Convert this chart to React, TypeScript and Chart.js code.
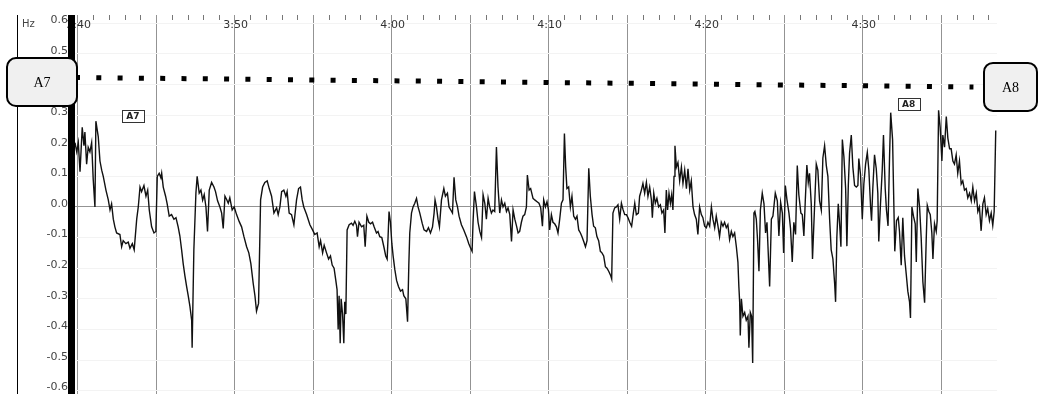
import { useEffect, useRef } from "react";
import { Chart, registerables } from "chart.js";

Chart.register(...registerables);

// ---- axis data ----
const START_SEC = 220; // 3:40 expressed in seconds
const X_MIN = -0.17;
const X_MAX = 58.55;
const Y_MIN = -0.611;
const Y_MAX = 0.627;
const yTickValues = [-0.6, -0.5, -0.4, -0.3, -0.2, -0.1, 0, 0.1, 0.2, 0.3, 0.4, 0.5, 0.6];
const gridSec = [0, 5, 10, 15, 20, 25, 30, 35, 40, 45, 50, 55];
const timeLabelSec = [0, 10, 20, 30, 40, 50];
const minorTickSec = [
  1, 2, 3, 4, 6, 7, 8, 9, 11, 12, 13, 14, 16, 17, 18, 19, 21, 22, 23, 24, 26, 27, 28, 29,
  31, 32, 33, 34, 36, 37, 38, 39, 41, 42, 43, 44, 46, 47, 48, 49, 51, 52, 53, 54, 56, 57, 58,
];

// ---- frequency trace (seconds after 3:40, Hz) ----
const elapsedSec = [
  -0.17, -0.06, 0.04, 0.15, 0.29, 0.4, 0.46, 0.57, 0.67, 0.78, 0.89, 0.99, 1.1, 1.16, 1.31, 1.42, 1.53, 1.63, 1.8, 1.95,
  2.06, 2.16, 2.27, 2.37, 2.48, 2.69, 2.8, 2.9, 3.07, 3.22, 3.33, 3.48, 3.6, 3.76, 3.86, 3.97, 4.07, 4.22, 4.35, 4.46,
  4.56, 4.71, 4.86, 4.98, 5.07, 5.19, 5.3, 5.35, 5.45, 5.6, 5.7, 5.83, 5.98, 6.13, 6.26, 6.4, 6.51, 6.62, 6.72, 6.83,
  6.94, 7.04, 7.15, 7.26, 7.29, 7.4, 7.53, 7.61, 7.74, 7.85, 7.96, 8.06, 8.17, 8.27, 8.38, 8.53, 8.68, 8.78, 8.91, 9.06,
  9.17, 9.27, 9.38, 9.48, 9.59, 9.69, 9.84, 9.97, 10.12, 10.29, 10.44, 10.59, 10.76, 10.9, 11.03, 11.18, 11.29, 11.39, 11.52, 11.65,
  11.78, 11.92, 12.07, 12.2, 12.35, 12.5, 12.67, 12.77, 12.88, 12.99, 13.13, 13.26, 13.34, 13.47, 13.62, 13.77, 13.94, 14.07, 14.19, 14.3,
  14.4, 14.58, 14.79, 14.96, 15.1, 15.25, 15.38, 15.47, 15.6, 15.7, 15.85, 15.98, 16.1, 16.21, 16.33, 16.44, 16.52, 16.59, 16.65, 16.72,
  16.78, 16.87, 16.95, 17.01, 17.08, 17.16, 17.29, 17.44, 17.54, 17.65, 17.76, 17.82, 17.92, 18.08, 18.22, 18.31, 18.42, 18.54, 18.65, 18.78,
  18.88, 19.03, 19.13, 19.24, 19.37, 19.5, 19.62, 19.71, 19.77, 19.83, 19.92, 20.01, 20.09, 20.2, 20.31, 20.43, 20.56, 20.69, 20.77, 20.9,
  21.01, 21.09, 21.15, 21.26, 21.36, 21.47, 21.58, 21.68, 21.79, 21.94, 22.06, 22.22, 22.34, 22.47, 22.6, 22.7, 22.76, 22.85, 22.95, 23.04,
  23.17, 23.32, 23.42, 23.55, 23.65, 23.76, 23.87, 23.97, 24.08, 24.19, 24.29, 24.44, 24.59, 24.76, 24.91, 25.03, 25.12, 25.18, 25.27, 25.4,
  25.5, 25.61, 25.72, 25.82, 25.93, 26.03, 26.14, 26.24, 26.35, 26.45, 26.56, 26.67, 26.77, 26.88, 26.99, 27.09, 27.2, 27.31, 27.41, 27.52,
  27.63, 27.73, 27.84, 27.94, 28.05, 28.15, 28.26, 28.36, 28.47, 28.58, 28.64, 28.75, 28.85, 29.0, 29.11, 29.26, 29.38, 29.49, 29.6, 29.68,
  29.79, 29.89, 29.98, 30.06, 30.17, 30.27, 30.38, 30.49, 30.59, 30.7, 30.81, 30.91, 31.0, 31.08, 31.16, 31.27, 31.38, 31.48, 31.59, 31.7,
  31.8, 31.91, 32.02, 32.12, 32.23, 32.34, 32.44, 32.55, 32.65, 32.76, 32.86, 32.97, 33.07, 33.18, 33.29, 33.39, 33.5, 33.61, 33.71, 33.82,
  33.95, 34.01, 34.09, 34.2, 34.31, 34.41, 34.52, 34.63, 34.73, 34.84, 34.95, 35.05, 35.16, 35.28, 35.39, 35.48, 35.58, 35.71, 35.79, 35.9,
  36.0, 36.11, 36.22, 36.32, 36.43, 36.54, 36.6, 36.69, 36.79, 36.89, 37.0, 37.11, 37.21, 37.32, 37.4, 37.49, 37.57, 37.66, 37.75, 37.83,
  37.91, 37.98, 38.04, 38.13, 38.23, 38.34, 38.45, 38.55, 38.66, 38.77, 38.87, 38.98, 39.08, 39.19, 39.29, 39.4, 39.5, 39.61, 39.72, 39.82,
  39.93, 40.04, 40.14, 40.25, 40.36, 40.46, 40.57, 40.67, 40.78, 40.88, 40.99, 41.1, 41.2, 41.31, 41.41, 41.52, 41.63, 41.73, 41.84, 41.95,
  42.05, 42.11, 42.16, 42.2, 42.27, 42.37, 42.48, 42.58, 42.69, 42.75, 42.84, 42.92, 42.99, 43.07, 43.13, 43.22, 43.3, 43.39, 43.48, 43.6,
  43.71, 43.81, 43.9, 44.07, 44.18, 44.28, 44.43, 44.56, 44.66, 44.77, 44.88, 44.96, 45.07, 45.17, 45.3, 45.4, 45.51, 45.61, 45.72, 45.83,
  45.93, 46.06, 46.15, 46.25, 46.34, 46.44, 46.53, 46.61, 46.72, 46.8, 46.93, 47.04, 47.14, 47.25, 47.36, 47.46, 47.57, 47.68, 47.78, 47.89,
  47.99, 48.1, 48.21, 48.27, 48.35, 48.44, 48.52, 48.61, 48.7, 48.8, 48.91, 48.99, 49.08, 49.16, 49.27, 49.37, 49.48, 49.59, 49.69, 49.75,
  49.86, 49.97, 50.07, 50.18, 50.29, 50.39, 50.5, 50.56, 50.64, 50.75, 50.86, 50.96, 51.02, 51.13, 51.24, 51.32, 51.43, 51.51, 51.61, 51.71,
  51.78, 51.9, 51.96, 52.04, 52.15, 52.26, 52.34, 52.45, 52.55, 52.66, 52.77, 52.87, 52.98, 53.04, 53.13, 53.23, 53.34, 53.41, 53.51, 53.62,
  53.72, 53.83, 53.94, 54.04, 54.11, 54.21, 54.3, 54.4, 54.47, 54.57, 54.68, 54.74, 54.83, 54.93, 55.04, 55.1, 55.21, 55.32, 55.42, 55.53,
  55.63, 55.74, 55.84, 55.95, 56.05, 56.16, 56.27, 56.37, 56.48, 56.59, 56.69, 56.8, 56.91, 57.01, 57.12, 57.23, 57.33, 57.43, 57.54, 57.65,
  57.75, 57.86, 57.96, 58.07, 58.18, 58.28, 58.37, 58.47,
];

const hz = [
  0.21, 0.18, 0.21, 0.115, 0.26, 0.2, 0.245, 0.14, 0.195, 0.18, 0.21, 0.09, 0.0, 0.28, 0.23, 0.15, 0.12, 0.1, 0.055, 0.023,
  -0.01, 0.01, -0.04, -0.065, -0.085, -0.09, -0.13, -0.11, -0.12, -0.115, -0.135, -0.12, -0.14, -0.04, 0.0, 0.065, 0.05, 0.07, 0.035, 0.055,
  -0.01, -0.065, -0.085, -0.08, 0.1, 0.11, 0.095, 0.11, 0.065, 0.035, 0.01, -0.03, -0.025, -0.04, -0.035, -0.065, -0.095, -0.14, -0.185, -0.225,
  -0.26, -0.29, -0.325, -0.37, -0.46, -0.14, 0.045, 0.1, 0.045, 0.055, 0.022, 0.04, 0.0, -0.08, 0.055, 0.08, 0.065, 0.05, 0.02, 0.0,
  -0.02, -0.07, 0.035, 0.025, 0.012, 0.03, -0.01, 0.0, -0.025, -0.048, -0.065, -0.097, -0.13, -0.15, -0.185, -0.25, -0.29, -0.34, -0.315, 0.023,
  0.065, 0.08, 0.085, 0.06, 0.035, -0.02, -0.003, -0.025, 0.0, 0.05, 0.055, 0.035, 0.05, -0.02, -0.025, -0.058, 0.023, 0.06, 0.065, 0.023,
  0.0, -0.025, -0.058, -0.075, -0.09, -0.085, -0.13, -0.11, -0.15, -0.125, -0.15, -0.17, -0.16, -0.19, -0.2, -0.24, -0.27, -0.4, -0.29, -0.445,
  -0.3, -0.35, -0.445, -0.31, -0.35, -0.075, -0.058, -0.053, -0.06, -0.047, -0.06, -0.097, -0.05, -0.065, -0.06, -0.13, -0.03, -0.05, -0.055, -0.05,
  -0.065, -0.085, -0.08, -0.097, -0.1, -0.13, -0.16, -0.17, -0.097, -0.015, -0.05, -0.12, -0.16, -0.205, -0.24, -0.26, -0.275, -0.27, -0.29, -0.3,
  -0.375, -0.19, -0.085, -0.02, 0.0, 0.012, 0.028, 0.0, -0.02, -0.053, -0.075, -0.08, -0.068, -0.085, -0.065, -0.02, 0.023, 0.0, -0.04, -0.065,
  0.023, 0.06, 0.035, 0.045, 0.0, -0.01, -0.02, 0.097, 0.023, 0.0, -0.03, -0.058, -0.075, -0.097, -0.12, -0.135, -0.145, -0.05, 0.05, 0.0,
  -0.05, -0.08, -0.1, 0.04, 0.012, -0.04, 0.028, 0.0, -0.02, -0.01, -0.015, 0.196, 0.065, -0.02, 0.023, 0.0, 0.012, -0.015, -0.003, -0.025,
  -0.113, -0.01, -0.04, -0.06, -0.085, -0.08, -0.05, -0.03, -0.025, 0.0, 0.104, 0.055, 0.06, 0.028, 0.023, 0.017, 0.012, -0.003, -0.063, 0.023,
  0.0, 0.017, -0.008, -0.075, -0.025, -0.05, -0.055, -0.065, -0.085, -0.04, 0.012, 0.023, 0.24, 0.13, 0.06, 0.065, 0.0, 0.035, -0.03, -0.04,
  -0.03, -0.075, -0.085, -0.097, -0.113, -0.13, -0.11, 0.126, 0.035, -0.025, -0.063, -0.068, -0.097, -0.11, -0.145, -0.15, -0.16, -0.195, -0.2, -0.21,
  -0.225, -0.235, -0.02, -0.003, 0.0, 0.007, -0.04, 0.012, -0.008, -0.025, -0.025, -0.035, -0.05, -0.063, -0.02, 0.012, -0.025, -0.02, 0.035, 0.055,
  0.077, 0.045, 0.08, 0.035, 0.065, 0.023, -0.035, 0.045, 0.012, 0.028, 0.0, 0.007, -0.02, -0.01, -0.085, 0.055, -0.01, 0.045, 0.012, 0.04,
  -0.01, 0.1, 0.2, 0.13, 0.145, 0.085, 0.13, 0.077, 0.12, 0.06, 0.125, 0.055, 0.085, 0.0, -0.025, -0.04, -0.09, 0.0, -0.025, -0.035,
  -0.063, -0.068, -0.05, -0.063, 0.0, -0.04, -0.068, -0.03, -0.063, -0.097, -0.05, -0.063, -0.05, -0.068, -0.058, -0.107, -0.08, -0.097, -0.085, -0.13,
  -0.18, -0.26, -0.31, -0.42, -0.3, -0.357, -0.345, -0.37, -0.357, -0.46, -0.345, -0.357, -0.51, -0.02, -0.015, -0.04, -0.107, -0.21, -0.01, 0.045,
  0.01, -0.085, -0.05, -0.26, -0.04, -0.03, 0.045, 0.02, -0.095, 0.015, -0.02, -0.15, 0.07, 0.025, -0.02, -0.07, -0.18, -0.05, -0.09, 0.135,
  0.04, -0.02, -0.025, -0.095, 0.02, 0.137, 0.08, 0.11, 0.01, -0.17, 0.0, 0.14, 0.12, 0.02, -0.01, 0.16, 0.2, 0.135, 0.1, -0.04,
  -0.14, -0.17, -0.25, -0.31, -0.1, 0.01, -0.05, -0.13, 0.22, 0.164, 0.06, -0.128, 0.07, 0.175, 0.235, 0.13, 0.07, 0.065, 0.07, 0.158,
  0.105, -0.04, 0.075, 0.14, 0.178, 0.12, 0.0, -0.045, 0.06, 0.17, 0.125, 0.045, -0.113, 0.01, 0.12, 0.235, 0.06, -0.01, -0.062, 0.17,
  0.308, 0.22, 0.06, -0.145, -0.045, -0.035, -0.08, -0.19, -0.035, -0.16, -0.22, -0.275, -0.31, -0.363, 0.0, -0.03, -0.055, -0.18, 0.06, 0.0,
  -0.1, -0.245, -0.313, -0.11, 0.005, -0.015, -0.025, -0.085, -0.17, -0.055, -0.08, -0.045, 0.316, 0.26, 0.15, 0.235, 0.195, 0.295, 0.225, 0.19,
  0.19, 0.15, 0.14, 0.17, 0.11, 0.15, 0.075, 0.085, 0.055, 0.06, 0.03, 0.045, 0.02, 0.065, 0.02, 0.045, -0.015, 0.0, -0.078, 0.01,
  0.03, -0.025, -0.005, -0.045, -0.02, -0.06, -0.015, 0.25,
];

// ---- dotted guide between section markers ----
const guideSec = [-0.17, 57.05];
const guideHz = [0.423, 0.392];

// ---- marker labels ----
const sideBoxNames = ["A7", "A8"];
const sideBoxHz = [0.408, 0.392];
const markerNames = ["A7", "A8"];
const markerSec = [3.52, 52.92];
const markerHz = [0.297, 0.336];

function formatTime(s: number) {
  const total = Math.round(START_SEC + s);
  const m = Math.floor(total / 60);
  const sec = total % 60;
  return `${m}:${sec.toString().padStart(2, "0")}`;
}

function roundRect(ctx: CanvasRenderingContext2D, x: number, y: number, w: number, h: number, r: number) {
  ctx.beginPath();
  ctx.moveTo(x + r, y);
  ctx.lineTo(x + w - r, y);
  ctx.arcTo(x + w, y, x + w, y + r, r);
  ctx.lineTo(x + w, y + h - r);
  ctx.arcTo(x + w, y + h, x + w - r, y + h, r);
  ctx.lineTo(x + r, y + h);
  ctx.arcTo(x, y + h, x, y + h - r, r);
  ctx.lineTo(x, y + r);
  ctx.arcTo(x, y, x + r, y, r);
  ctx.closePath();
}

const overlayPlugin = {
  id: "overlay",
  afterDraw(chart: any) {
    const ctx: CanvasRenderingContext2D = chart.ctx;
    const xs = chart.scales.x;
    const ys = chart.scales.y;
    const area = chart.chartArea;
    ctx.save();

    // minor ticks along the top
    ctx.strokeStyle = "#777";
    ctx.lineWidth = 1;
    minorTickSec.forEach((s) => {
      const px = Math.round(xs.getPixelForValue(s)) + 0.5;
      ctx.beginPath();
      ctx.moveTo(px, area.top);
      ctx.lineTo(px, area.top + 5);
      ctx.stroke();
    });

    // time labels
    ctx.fillStyle = "#333";
    ctx.font = "11px 'DejaVu Sans'";
    ctx.textAlign = "center";
    ctx.textBaseline = "middle";
    timeLabelSec.forEach((s) => {
      ctx.fillText(formatTime(s), xs.getPixelForValue(s) + 1, area.top + 10);
    });

    // thick left bar
    ctx.fillStyle = "#000";
    ctx.fillRect(area.left - 7, area.top, 7, area.bottom - area.top);

    // thin frame line on the far left
    ctx.strokeStyle = "#000";
    ctx.beginPath();
    ctx.moveTo(17.5, area.top);
    ctx.lineTo(17.5, area.bottom);
    ctx.stroke();

    // Hz unit
    ctx.fillStyle = "#444";
    ctx.font = "10px 'DejaVu Sans'";
    ctx.textAlign = "left";
    ctx.fillText("Hz", 22, area.top + 9);

    // side boxes
    const boxes = [
      { x: 7, w: 70 },
      { x: 984, w: 53 },
    ];
    sideBoxNames.forEach((name, i) => {
      const cy = ys.getPixelForValue(sideBoxHz[i]);
      const b = boxes[i];
      roundRect(ctx, b.x, cy - 24, b.w, 48, 9);
      ctx.fillStyle = "#f0f0f0";
      ctx.fill();
      ctx.lineWidth = 2;
      ctx.strokeStyle = "#000";
      ctx.stroke();
      ctx.fillStyle = "#000";
      ctx.font = "14px 'Liberation Serif'";
      ctx.textAlign = "center";
      ctx.fillText(name, b.x + b.w / 2, cy + 1);
    });

    // small in-chart markers
    markerNames.forEach((name, i) => {
      const cx = xs.getPixelForValue(markerSec[i]);
      const cy = ys.getPixelForValue(markerHz[i]);
      ctx.fillStyle = "#fff";
      ctx.fillRect(cx - 11, cy - 6, 22, 12);
      ctx.lineWidth = 1;
      ctx.strokeStyle = "#333";
      ctx.strokeRect(Math.round(cx - 11) + 0.5, Math.round(cy - 6) + 0.5, 22, 12);
      ctx.fillStyle = "#222";
      ctx.font = "bold 9px 'DejaVu Sans'";
      ctx.textAlign = "center";
      ctx.fillText(name, cx, cy + 1);
    });

    ctx.restore();
  },
};

export default function App() {
  const canvasRef = useRef<HTMLCanvasElement | null>(null);

  useEffect(() => {
    if (!canvasRef.current) return;
    const trace = elapsedSec.map((s, i) => ({ x: s, y: hz[i] }));
    const guide = guideSec.map((s, i) => ({ x: s, y: guideHz[i] }));

    const chart = new Chart(canvasRef.current, {
      type: "line",
      data: {
        datasets: [
          {
            data: trace,
            borderColor: "#111",
            borderWidth: 1.4,
            pointRadius: 0,
            tension: 0,
          },
          {
            data: guide,
            borderColor: "#000",
            borderWidth: 5,
            borderDash: [5, 16.3],
            borderCapStyle: "butt",
            pointRadius: 0,
          },
        ],
      },
      options: {
        responsive: false,
        animation: false,
        events: [],
        layout: { padding: { top: 15, right: 43, bottom: 0, left: 0 } },
        plugins: { legend: { display: false }, tooltip: { enabled: false } },
        scales: {
          x: {
            type: "linear",
            position: "top",
            min: X_MIN,
            max: X_MAX,
            afterBuildTicks: (scale: any) => {
              scale.ticks = gridSec.map((v) => ({ value: v }));
            },
            afterFit: (scale: any) => {
              scale.height = 0;
              scale.paddingLeft = 0;
              scale.paddingRight = 0;
            },
            ticks: { display: false },
            grid: { color: "#939393", lineWidth: 1, drawTicks: false },
            border: { display: false },
          },
          y: {
            type: "linear",
            position: "left",
            min: Y_MIN,
            max: Y_MAX,
            afterBuildTicks: (scale: any) => {
              scale.ticks = yTickValues.map((v) => ({ value: v }));
            },
            afterFit: (scale: any) => {
              scale.width = 75;
              scale.paddingTop = 0;
              scale.paddingBottom = 0;
            },
            ticks: {
              color: "#444",
              font: { family: "'DejaVu Sans'", size: 11 },
              padding: 7,
              labelOffset: -3,
              callback: (v: any) => Number(v).toFixed(1),
            },
            grid: {
              drawTicks: false,
              color: (c: any) => (Math.abs(c.tick?.value ?? 1) < 1e-9 ? "#939393" : "#f3f3f3"),
              lineWidth: 1,
            },
            border: { display: false },
          },
        },
      },
      plugins: [overlayPlugin],
    });
    return () => chart.destroy();
  }, []);

  return (
    <div style={{ position: "absolute", left: 0, top: 0, width: 1040, height: 394, background: "#fff" }}>
      <canvas ref={canvasRef} width={1040} height={394} style={{ display: "block" }} />
    </div>
  );
}
